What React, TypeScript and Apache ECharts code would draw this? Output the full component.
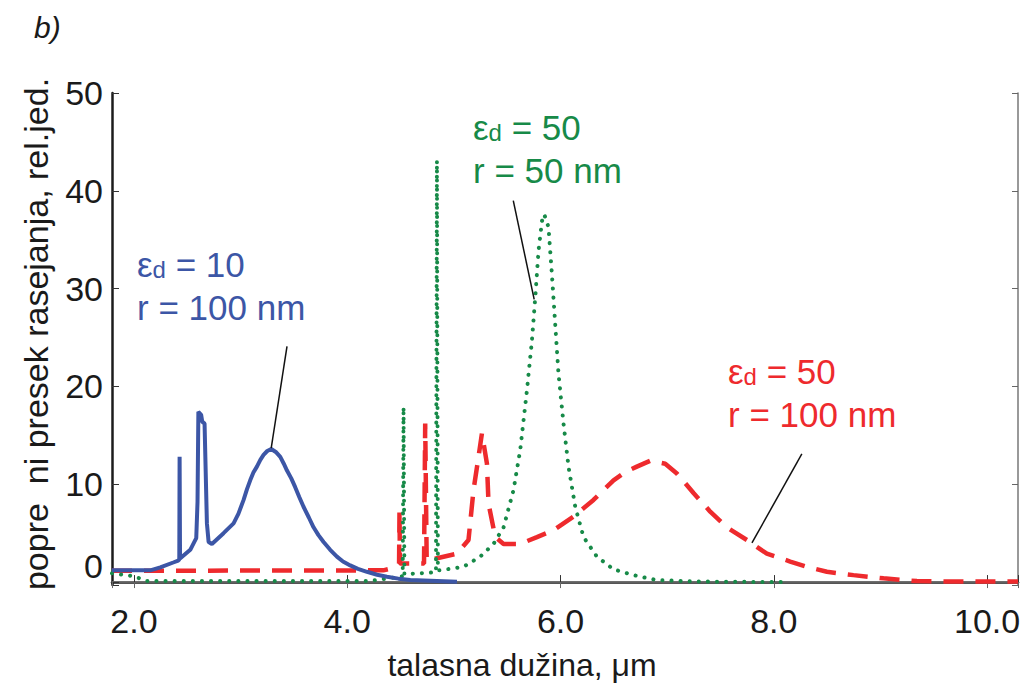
import React, { useEffect, useRef } from "react";
import * as echarts from "echarts";

// Axis ranges (data units)
const X_MIN = 1.794;
const X_MAX = 10.29;
const Y_MIN = -0.3;
const Y_MAX = 50;
const X_STEP = 2;
const Y_STEP = 10;

// ε_d = 10, r = 100 nm (blue, solid)
const blueCurve: [number, number][] = [
  [1.794, 1.2], [2.153, 1.2], [2.247, 1.5], [2.368, 2.0], [2.415, 2.2],
  [2.425, 2.3], [2.428, 12.8], [2.432, 2.4], [2.528, 3.3], [2.584, 4.5],
  [2.596, 8.2], [2.604, 17.4], [2.63, 17.1], [2.64, 16.4], [2.662, 16.2],
  [2.684, 6.0], [2.7, 4.1], [2.731, 3.9], [2.84, 5.0], [2.934, 6.0],
  [2.98, 7.0], [3.028, 8.4], [3.06, 9.5], [3.09, 10.4], [3.12, 11.2],
  [3.153, 11.8], [3.185, 12.5], [3.215, 13.0], [3.25, 13.4], [3.287, 13.6],
  [3.33, 13.3], [3.372, 12.8], [3.405, 12.1], [3.435, 11.4], [3.475, 10.6],
  [3.512, 9.7], [3.55, 8.7], [3.59, 7.7], [3.64, 6.6], [3.684, 5.6],
  [3.73, 4.8], [3.778, 4.1], [3.84, 3.3], [3.903, 2.6], [3.96, 2.1],
  [4.028, 1.7], [4.1, 1.35], [4.185, 1.05], [4.28, 0.75], [4.372, 0.54],
  [4.48, 0.35], [4.591, 0.2], [4.778, 0.13], [5.029, 0.03],
];

// ε_d = 50, r = 100 nm (red, dashed)
const redCurve: [number, number][] = [
  [1.794, 1.15], [4.338, 1.2], [4.45, 1.5], [4.486, 1.9], [4.49, 7.3],
  [4.494, 1.9], [4.72, 1.9], [4.731, 16.2], [4.745, 2.2], [5.029, 2.9],
  [5.137, 4.3], [5.184, 9.4], [5.231, 12.8], [5.263, 15.2], [5.31, 12.1],
  [5.325, 8.0], [5.388, 4.6], [5.466, 3.9], [5.622, 3.9], [5.779, 4.6],
  [5.934, 5.3], [6.122, 6.7], [6.309, 8.4], [6.497, 10.4], [6.6, 11.2],
  [6.716, 11.8], [6.841, 12.4], [6.982, 12.1], [7.091, 11.1], [7.17, 10.1],
  [7.247, 9.1], [7.404, 7.2], [7.56, 5.6], [7.748, 4.3], [7.935, 2.9],
  [8.154, 2.1], [8.31, 1.56], [8.498, 1.05], [8.747, 0.71], [9.029, 0.38],
  [9.342, 0.1], [9.654, 0.05], [10.29, 0.05],
];

// ε_d = 50, r = 50 nm (green, dotted)
const greenCurve: [number, number][] = [
  [1.794, 0.9], [2.0, 0.6], [2.12, 0.1], [4.2, 0.1], [4.466, 0.5],
  [4.52, 0.6], [4.528, 17.9], [4.536, 0.8], [4.684, 0.9], [4.832, 1.0],
  [4.841, 43.1], [4.85, 1.2], [4.872, 1.2], [5.09, 1.56], [5.247, 2.6],
  [5.372, 3.9], [5.466, 5.6], [5.559, 9.4], [5.622, 13.5], [5.685, 19.6],
  [5.732, 24.7], [5.763, 29.1], [5.794, 33.9], [5.826, 36.9], [5.847, 37.6],
  [5.887, 36.3], [5.919, 31.5], [5.95, 26.4], [5.981, 21.3], [6.028, 16.2],
  [6.075, 11.8], [6.138, 7.7], [6.216, 4.6], [6.341, 2.6], [6.497, 1.3],
  [6.684, 0.71], [6.904, 0.2], [7.31, 0.05], [8.107, 0.0],
];

// Leader lines for the annotations (data coordinates)
const blueLeader: [number, number][] = [[3.435, 24.1], [3.287, 13.7]];
const greenLeader: [number, number][] = [[5.557, 39.0], [5.753, 28.9]];
const redLeader: [number, number][] = [[8.263, 13.1], [7.795, 4.0]];

const BLUE = "#3c56a6";
const RED = "#ee2a2d";
const GREEN = "#178a48";
const FONT = "'Liberation Sans', Arial, Helvetica, sans-serif";

function leader(pts: [number, number][]) {
  return {
    silent: true,
    symbol: ["none", "none"],
    label: { show: false },
    lineStyle: { color: "#111", width: 1.5, type: "solid" },
    data: [[{ coord: pts[0] }, { coord: pts[1] }]],
  };
}

function annotation(x: number, y: number, eps: string, r: string, color: string) {
  const rich = {
    e: { fontSize: 35, fontFamily: FONT, fill: color, verticalAlign: "bottom", lineHeight: 35 },
    d: { fontSize: 24, fontFamily: FONT, fill: color, verticalAlign: "bottom", lineHeight: 30 },
  };
  return [
    {
      type: "text",
      x,
      y,
      style: {
        text: `{e|ε}{d|d}{e| = ${eps}}`,
        rich,
        fill: color,
        fontSize: 35,
        fontFamily: FONT,
        verticalAlign: "middle",
      },
    },
    {
      type: "text",
      x,
      y: y + 43,
      style: {
        text: `r = ${r}`,
        fill: color,
        fontSize: 35,
        fontFamily: FONT,
        verticalAlign: "middle",
      },
    },
  ];
}

function isMultiple(v: number, step: number) {
  const q = v / step;
  return Math.abs(q - Math.round(q)) < 1e-6;
}

export default function App() {
  const ref = useRef<HTMLDivElement>(null);

  useEffect(() => {
    if (!ref.current) return;
    const chart = echarts.init(ref.current, null, { renderer: "svg" });

    const xAxisBase = {
      type: "value",
      min: X_MIN,
      max: X_MAX,
      splitLine: { show: false },
    };
    const yAxisBase = {
      type: "value",
      min: Y_MIN,
      max: Y_MAX,
      splitLine: { show: false },
    };

    chart.setOption({
      animation: false,
      backgroundColor: "#ffffff",
      grid: { left: 112, right: 10, top: 93, bottom: 100, containLabel: false },
      xAxis: [
        {
          ...xAxisBase,
          position: "bottom",
          axisLine: { show: true, lineStyle: { color: "#1c1c1c", width: 2.5 } },
          axisTick: { show: true, inside: true, length: 7, lineStyle: { color: "#333", width: 1 } },
          axisLabel: {
            show: true,
            fontSize: 34,
            fontFamily: FONT,
            color: "#1a1a1a",
            margin: 19,
            showMinLabel: false,
            showMaxLabel: true,
            formatter: (v: number) => (isMultiple(v, X_STEP) ? v.toFixed(1) : ""),
          },
        },
        {
          ...xAxisBase,
          position: "top",
          axisLine: { show: true, lineStyle: { color: "#777", width: 1.5 } },
          axisTick: { show: true, inside: true, length: 6, lineStyle: { color: "#666", width: 1 } },
          axisLabel: { show: false },
        },
      ],
      yAxis: [
        {
          ...yAxisBase,
          position: "left",
          axisLine: { show: true, lineStyle: { color: "#1c1c1c", width: 2.5 } },
          axisTick: { show: true, inside: true, length: 7, lineStyle: { color: "#333", width: 1 } },
          axisLabel: {
            show: true,
            fontSize: 34,
            fontFamily: FONT,
            color: "#1a1a1a",
            margin: 9,
            formatter: (v: number) => {
              if (v < -1e-9 || !isMultiple(v, Y_STEP)) return "";
              return Math.abs(v) < 1e-9 ? "{z|0}" : String(Math.round(v));
            },
            rich: {
              z: { fontSize: 34, fontFamily: FONT, color: "#1a1a1a", padding: [0, 0, 32, 0] },
            },
          },
        },
        {
          ...yAxisBase,
          position: "right",
          axisLine: { show: true, lineStyle: { color: "#777", width: 1.5 } },
          axisTick: { show: true, inside: true, length: 6, lineStyle: { color: "#666", width: 1 } },
          axisLabel: { show: false },
        },
      ],
      series: [
        {
          name: "εd = 50, r = 100 nm",
          type: "line",
          data: redCurve,
          showSymbol: false,
          lineStyle: { color: RED, width: 4.5, type: [20, 12] },
          markLine: { ...leader(redLeader) },
          z: 2,
        },
        {
          name: "εd = 50, r = 50 nm",
          type: "line",
          data: greenCurve,
          showSymbol: false,
          lineStyle: { color: GREEN, width: 4, type: [0.1, 9], cap: "round" },
          markLine: { ...leader(greenLeader) },
          z: 3,
        },
        {
          name: "εd = 10, r = 100 nm",
          type: "line",
          data: blueCurve,
          showSymbol: false,
          lineStyle: { color: BLUE, width: 4 },
          markLine: { ...leader(blueLeader) },
          z: 4,
        },
      ],
      graphic: [
        {
          type: "text",
          x: 34,
          y: 27,
          style: {
            text: "b)",
            fontSize: 30,
            fontStyle: "italic",
            fontFamily: FONT,
            fill: "#1a1a1a",
            verticalAlign: "middle",
          },
        },
        {
          type: "text",
          x: 36,
          y: 334,
          rotation: Math.PI / 2,
          style: {
            text: "popre  ni presek rasejanja, rel.jed.",
            fontSize: 34,
            fontFamily: FONT,
            fill: "#1a1a1a",
            align: "center",
            verticalAlign: "middle",
          },
        },
        {
          type: "text",
          x: 522,
          y: 665,
          style: {
            text: "talasna dužina, μm",
            fontSize: 32,
            fontFamily: FONT,
            fill: "#1a1a1a",
            align: "center",
            verticalAlign: "middle",
          },
        },
        ...annotation(137, 264, "10", "100 nm", BLUE),
        ...annotation(473, 127, "50", "50 nm", GREEN),
        ...annotation(728, 371, "50", "100 nm", RED),
      ],
    });

    return () => chart.dispose();
  }, []);

  return (
    <div
      ref={ref}
      style={{ position: "absolute", left: 0, top: 0, width: 1028, height: 685 }}
    />
  );
}
